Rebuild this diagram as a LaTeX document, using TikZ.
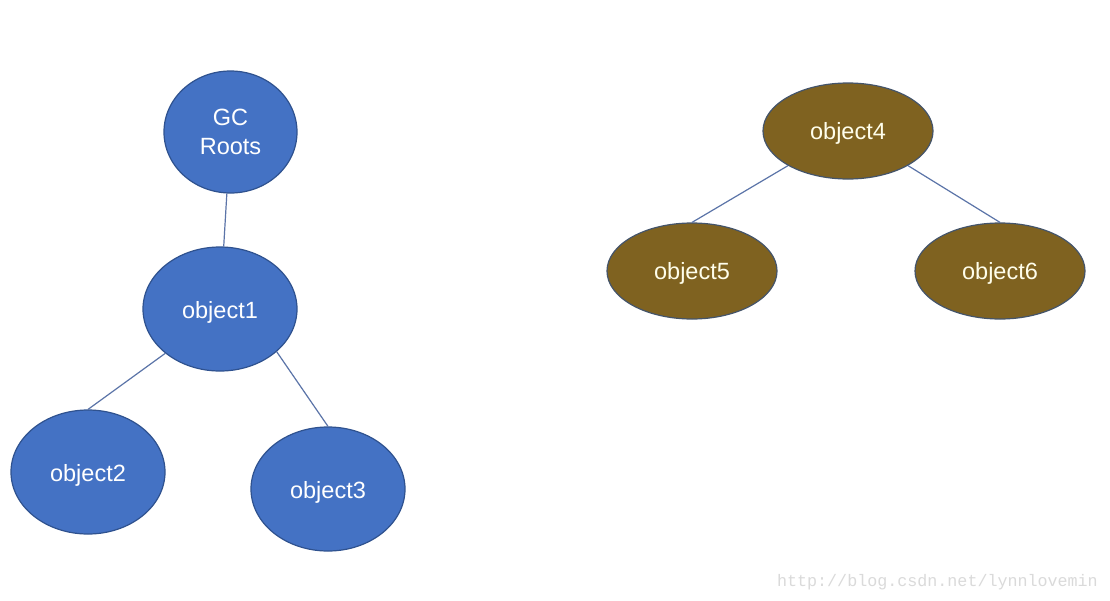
\documentclass[tikz,border=0pt]{standalone}
\usepackage{fontspec}
\setmainfont{Liberation Sans}
\newfontfamily\wmfont{Liberation Mono}
\usetikzlibrary{shapes.geometric}
\definecolor{bfill}{HTML}{4472C4}
\definecolor{bdraw}{HTML}{2F528F}
\definecolor{ofill}{HTML}{7F6220}
\definecolor{odraw}{HTML}{44546A}
\definecolor{lcol}{HTML}{5B74A8}
\definecolor{wm}{HTML}{DADADA}
\begin{document}
\begin{tikzpicture}[x=1pt,y=-1pt,
  bnode/.style={ellipse,draw=bdraw,fill=bfill,line width=1.2pt,text=white,inner sep=0pt,
    font=\fontsize{23.5}{29}\selectfont,align=center},
  obnode/.style={bnode,minimum width=154pt,minimum height=124pt,text height=20pt,text depth=2pt},
  onode/.style={ellipse,draw=odraw,fill=ofill,line width=1.2pt,text=white!92!yellow,inner sep=0pt,
    minimum width=170pt,minimum height=96pt,font=\fontsize{23.5}{29}\selectfont,
    text height=19pt,text depth=3pt},
  conn/.style={draw=lcol,line width=1.2pt}]
\useasboundingbox (0,0) rectangle (1110,600);
\fill[white] (0,0) rectangle (1110,600);
\node[bnode,minimum width=133pt,minimum height=122pt] (gc) at (230.5,132) {GC\\Roots};
\node[obnode] (o1) at (220,309) {object1};
\node[obnode] (o2) at (88,472) {object2};
\node[obnode] (o3) at (328,489) {object3};
\node[onode] (o4) at (848,131) {object4};
\node[onode] (o5) at (692,271) {object5};
\node[onode] (o6) at (1000,271) {object6};
\draw[conn] (gc) -- (o1);
\draw[conn] (o1.-141) -- (o2.90);
\draw[conn] (o1.-37.5) -- (o3.90);
\draw[conn] (o4.-150) -- (o5.90);
\draw[conn] (o4.-30) -- (o6.90);
\node[anchor=base east,text=wm,font=\wmfont\fontsize{16.7}{18}\selectfont,inner sep=0pt] (wmk) at (1098,586) {http://blog.csdn.net/lynnlovemin};
\end{tikzpicture}
\end{document}
